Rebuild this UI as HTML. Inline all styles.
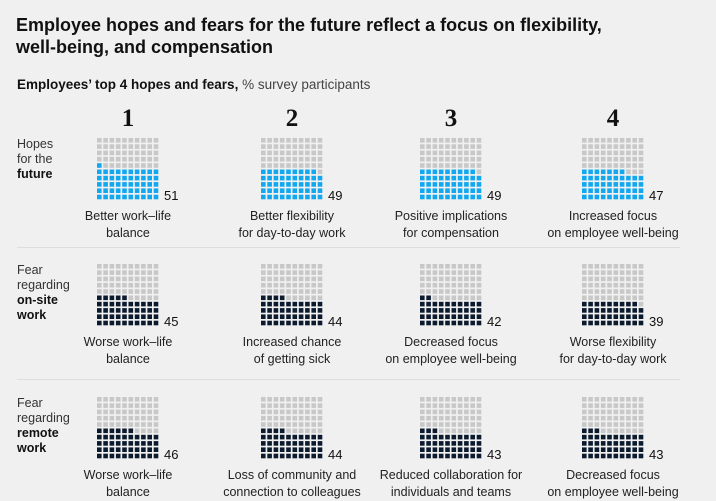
<!DOCTYPE html>
<html><head><meta charset="utf-8"><style>
body{margin:0;background:#f0f0f0;}
svg{display:block;font-family:"Liberation Sans",sans-serif;}
</style></head><body>
<svg width="716" height="501" viewBox="0 0 716 501">
<rect width="716" height="501" fill="#f0f0f0"/>
<text x="16" y="31" font-size="18" font-weight="bold" fill="#111">Employee hopes and fears for the future reflect a focus on flexibility,</text>
<text x="16" y="53" font-size="18" font-weight="bold" fill="#111">well-being, and compensation</text>
<text x="17" y="89" font-size="13.5" fill="#111"><tspan font-weight="bold">Employees’ top 4 hopes and fears,</tspan><tspan fill="#444"> % survey participants</tspan></text>
<line x1="17" x2="680" y1="247.5" y2="247.5" stroke="#ddd"/>
<line x1="17" x2="680" y1="379.5" y2="379.5" stroke="#ddd"/>
<g id="g"></g>
</svg>
<script>
const ranks=["1","2","3","4"];
const rowLabels=[["Hopes","for the","*future"],["Fear","regarding","*on-site","*work"],["Fear","regarding","*remote","*work"]];
const hopesValues=[51,49,49,47];
const onsiteValues=[45,44,42,39];
const remoteValues=[46,44,43,43];
const hopesLabels=[["Better work–life","balance"],["Better flexibility","for day-to-day work"],["Positive implications","for compensation"],["Increased focus","on employee well-being"]];
const onsiteLabels=[["Worse work–life","balance"],["Increased chance","of getting sick"],["Decreased focus","on employee well-being"],["Worse flexibility","for day-to-day work"]];
const remoteLabels=[["Worse work–life","balance"],["Loss of community and","connection to colleagues"],["Reduced collaboration for","individuals and teams"],["Decreased focus","on employee well-being"]];
const rows=[{v:hopesValues,l:hopesLabels,c:"#12a8f0"},{v:onsiteValues,l:onsiteLabels,c:"#0c1a2e"},{v:remoteValues,l:remoteLabels,c:"#0c1a2e"}];
const colX=[97,261,420,582];
const rowY=[138,264,397];
const pitch=6.3,sz=4.6;
const NS="http://www.w3.org/2000/svg";
const g=document.getElementById('g');
function mk(t,a,txt){const e=document.createElementNS(NS,t);for(const k in a)e.setAttribute(k,a[k]);if(txt!=null)e.textContent=txt;g.appendChild(e);return e;}
ranks.forEach((r,i)=>{
  const e=mk('text',{x:colX[i]+31,y:126,'font-size':25,'font-weight':'bold','text-anchor':'middle','font-family':'Liberation Serif, serif',fill:'#111'},r);
  
  
});
rowLabels.forEach((ls,ri)=>{
  ls.forEach((s,k)=>{
    const b=s[0]==='*';
    const e=mk('text',{x:17,y:rowY[ri]+10+k*15,'font-size':12.5,'font-weight':b?'bold':'normal',fill:b?'#111':'#333'},b?s.slice(1):s);
    
    
  });
});
rows.forEach((row,ri)=>{
  row.v.forEach((val,ci)=>{
    for(let n=0;n<100;n++){
      const rr=Math.floor(n/10),cc=n%10;
      const x=colX[ci]+cc*pitch, y=rowY[ri]+(9-rr)*pitch;
      const e=mk('rect',{x:x,y:y,width:sz,height:sz,fill:n<val?row.c:'#c8c8c8'});
      
      
    }
    const t=mk('text',{x:colX[ci]+67,y:rowY[ri]+62,'font-size':13,fill:'#111'},String(val));
    
    
    row.l[ci].forEach((s,k)=>{
      const e=mk('text',{x:colX[ci]+31,y:rowY[ri]+82+k*17,'font-size':12.5,'text-anchor':'middle',fill:'#222'},s);
      
      
    });
  });
});
</script>
</body></html>
